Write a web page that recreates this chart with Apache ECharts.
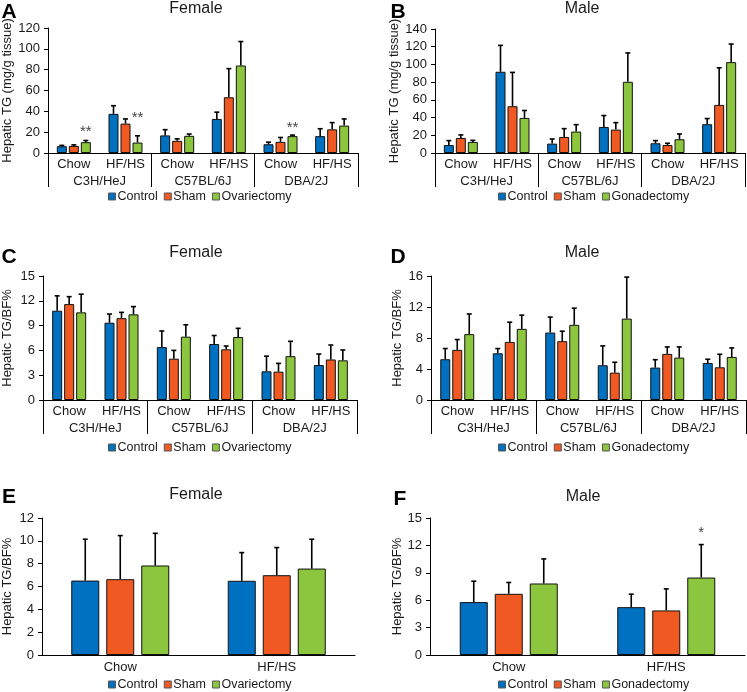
<!DOCTYPE html>
<html><head><meta charset="utf-8">
<script src="https://cdn.jsdelivr.net/npm/echarts@6/dist/echarts.min.js"></script>
<style>html,body{margin:0;padding:0;background:#fff}#c{width:747px;height:692px}</style>
</head><body><div id="c"></div>
<script>
// ---- categories / tick labels ----
const diets6 = ['Chow','HF/HS','Chow','HF/HS','Chow','HF/HS'];
const strains = ['C3H/HeJ','C57BL/6J','DBA/2J'];
const diets2 = ['Chow','HF/HS'];
const seriesFemale = ['Control','Sham','Ovariectomy'];
const seriesMale = ['Control','Sham','Gonadectomy'];

// ---- Panel A: Female hepatic TG (mg/g tissue) ----
const A_control = [6.5, 37.6, 16.9, 32.7, 8.4, 16.2];
const A_controlErr = [0.8, 7.8, 5.5, 6.5, 2.0, 7.1];
const A_sham = [6.8, 28.2, 11.7, 53.5, 10.7, 22.7];
const A_shamErr = [1.0, 4.5, 1.9, 27.5, 4.2, 6.5];
const A_ovx = [10.4, 10.0, 16.5, 84.0, 16.2, 26.3];
const A_ovxErr = [1.6, 6.5, 1.7, 23.0, 1.0, 6.4];
const A_stars = [[0, 20.5, '**'], [1, 33.6, '**'], [4, 24.5, '**']];

// ---- Panel B: Male hepatic TG (mg/g tissue) ----
const B_control = [9.0, 91.7, 10.6, 29.4, 11.0, 32.5];
const B_controlErr = [5.0, 29.8, 5.2, 12.9, 3.0, 6.4];
const B_sham = [17.0, 52.8, 18.1, 26.4, 9.0, 54.3];
const B_shamErr = [3.4, 38.2, 9.4, 7.9, 2.0, 41.9];
const B_gdx = [12.5, 39.6, 24.2, 80.4, 15.5, 102.6];
const B_gdxErr = [1.8, 8.4, 7.8, 32.6, 6.0, 20.4];

// ---- Panel C: Female hepatic TG/BF% ----
const C_control = [10.8, 9.35, 6.4, 6.77, 3.47, 4.23];
const C_controlErr = [1.8, 1.05, 1.95, 1.03, 1.83, 1.33];
const C_sham = [11.6, 9.9, 5.0, 6.13, 3.43, 4.9];
const C_shamErr = [0.9, 0.7, 1.0, 0.4, 1.0, 1.75];
const C_ovx = [10.6, 10.36, 7.66, 7.62, 5.3, 4.8];
const C_ovxErr = [2.2, 0.94, 1.44, 1.05, 1.8, 1.25];

// ---- Panel D: Male hepatic TG/BF% ----
const D_control = [5.26, 6.03, 8.7, 4.48, 4.18, 4.78];
const D_controlErr = [1.38, 0.61, 2.0, 2.5, 1.02, 0.48];
const D_sham = [6.47, 7.5, 7.59, 3.53, 5.95, 4.22];
const D_shamErr = [1.33, 2.54, 1.29, 1.34, 0.9, 1.68];
const D_gdx = [8.5, 9.18, 9.7, 10.5, 5.47, 5.56];
const D_gdxErr = [2.6, 1.77, 2.15, 5.36, 1.38, 1.16];

// ---- Panel E: Female hepatic TG/BF% by diet ----
const E_control = [6.52, 6.5];
const E_controlErr = [3.62, 2.47];
const E_sham = [6.64, 6.99];
const E_shamErr = [3.82, 2.42];
const E_ovx = [7.84, 7.57];
const E_ovxErr = [2.82, 2.57];

// ---- Panel F: Male hepatic TG/BF% by diet ----
const F_control = [5.79, 5.24];
const F_controlErr = [2.29, 1.42];
const F_sham = [6.7, 4.88];
const F_shamErr = [1.24, 2.36];
const F_gdx = [7.83, 8.48];
const F_gdxErr = [2.69, 3.61];
const F_stars = [[1, 13.4, '*']];

// ---- styles ----
const COLORS = ['#0070C0', '#F05A22', '#8CC63F'];
const FONT = 'Liberation Sans, Arial, sans-serif';
const TXT = '#1a1a1a';

const panels = [
  {grid:{left:48, top:28, width:310, height:125}, max:120, interval:20, yname:'Hepatic TG (mg/g tissue)', nameGap:33,
   names:seriesFemale, means:[A_control,A_sham,A_ovx], errs:[A_controlErr,A_shamErr,A_ovxErr], strain:true, stars:A_stars,
   title:'Female', titleX:196, titleY:9, letter:'A', lx:9, ly:12, legendLeft:108, legendY:197},
  {grid:{left:435, top:29, width:310, height:124}, max:140, interval:20, yname:'Hepatic TG (mg/g tissue)', nameGap:31,
   names:seriesMale, means:[B_control,B_sham,B_gdx], errs:[B_controlErr,B_shamErr,B_gdxErr], strain:true, stars:[],
   title:'Male', titleX:582, titleY:9, letter:'B', lx:398, ly:12, legendLeft:498, legendY:197},
  {grid:{left:42, top:276, width:315, height:124}, max:15, interval:3, yname:'Hepatic TG/BF%', nameGap:29,
   names:seriesFemale, means:[C_control,C_sham,C_ovx], errs:[C_controlErr,C_shamErr,C_ovxErr], strain:true, stars:[],
   title:'Female', titleX:196, titleY:253, letter:'C', lx:9, ly:257, legendLeft:108, legendY:448},
  {grid:{left:431, top:276, width:315, height:124}, max:16, interval:4, yname:'Hepatic TG/BF%', nameGap:27,
   names:seriesMale, means:[D_control,D_sham,D_gdx], errs:[D_controlErr,D_shamErr,D_gdxErr], strain:true, stars:[],
   title:'Male', titleX:582, titleY:253, letter:'D', lx:398, ly:257, legendLeft:498, legendY:448},
  {grid:{left:41, top:518, width:314, height:137}, max:12, interval:2, yname:'Hepatic TG/BF%', nameGap:28,
   names:seriesFemale, means:[E_control,E_sham,E_ovx], errs:[E_controlErr,E_shamErr,E_ovxErr], strain:false, stars:[],
   title:'Female', titleX:196, titleY:495, letter:'E', lx:9, ly:497, legendLeft:108, legendY:685},
  {grid:{left:430, top:518, width:315, height:137}, max:15, interval:3, yname:'Hepatic TG/BF%', nameGap:26,
   names:seriesMale, means:[F_control,F_sham,F_gdx], errs:[F_controlErr,F_shamErr,F_gdxErr], strain:false, stars:F_stars,
   title:'Male', titleX:583, titleY:497, letter:'F', lx:400, ly:499, legendLeft:498, legendY:685}
];

const grids = [], xAxes = [], yAxes = [], series = [], legends = [], graphics = [];

function errRender(offset) {
  return function (params, api) {
    const x = api.coord([api.value(0), 0])[0] + offset;
    const yb = api.coord([api.value(0), api.value(1)])[1];
    const yt = api.coord([api.value(0), api.value(2)])[1];
    return {type:'group', children:[
      {type:'line', shape:{x1:x, y1:yb, x2:x, y2:yt}, style:{stroke:'#000', lineWidth:1.6}},
      {type:'line', shape:{x1:x-2.5, y1:yt, x2:x+2.5, y2:yt}, style:{stroke:'#000', lineWidth:1.6}}
    ]};
  };
}
function starRender(offset) {
  return function (params, api) {
    const p = api.coord([api.value(0), api.value(1)]);
    return {type:'text', x:p[0] + offset, y:p[1], style:{text:api.value(2), font:'15px ' + FONT, fill:'#444', align:'center', verticalAlign:'middle'}};
  };
}

panels.forEach((p, gi) => {
  grids.push(p.grid);
  const cats = p.strain ? diets6 : diets2;
  const bw = p.strain ? 10 : 28;
  const gapFrac = p.strain ? 0.2 : 0.25;
  const step = bw * (1 + gapFrac);
  const xIdx = xAxes.length;
  xAxes.push({type:'category', gridIndex:gi, data:cats, position:'bottom',
    axisLine:{show:true, lineStyle:{color:'#000', width:1}}, axisTick:{show:false},
    axisLabel:{margin:p.strain ? 5 : 6, fontSize:13, color:TXT, fontFamily:FONT, interval:0}});
  if (p.strain) {
    xAxes.push({type:'category', gridIndex:gi, data:strains, position:'bottom', boundaryGap:true,
      axisLine:{show:false}, axisTick:{show:true, length:34, lineStyle:{color:'#000', width:1}},
      axisLabel:{margin:22, fontSize:13, color:TXT, fontFamily:FONT, interval:0}});
  }
  yAxes.push({type:'value', gridIndex:gi, min:0, max:p.max, interval:p.interval,
    name:p.yname, nameLocation:'middle', nameGap:p.nameGap, nameRotate:90,
    nameTextStyle:{fontSize:13, color:TXT, fontFamily:FONT},
    axisLine:{show:true, lineStyle:{color:'#000', width:1}},
    axisTick:{show:true, length:4, lineStyle:{color:'#000'}},
    splitLine:{show:false},
    axisLabel:{margin:8, fontSize:13, color:TXT, fontFamily:FONT}});
  const yIdx = yAxes.length - 1;
  p.names.forEach((nm, si) => {
    series.push({type:'bar', name:nm, xAxisIndex:xIdx, yAxisIndex:yIdx, data:p.means[si],
      barWidth:bw, barGap:(gapFrac*100)+'%',
      itemStyle:{color:COLORS[si], borderColor:'#111', borderWidth:1}, emphasis:{disabled:true}});
  });
  p.names.forEach((nm, si) => {
    const off = (si - 1) * step;
    series.push({type:'custom', name:'err'+gi+'_'+si, xAxisIndex:xIdx, yAxisIndex:yIdx, z:5,
      renderItem:errRender(off),
      data:p.means[si].map((m, i) => [i, m, m + p.errs[si][i]])});
  });
  if (p.stars.length) {
    series.push({type:'custom', name:'stars'+gi, xAxisIndex:xIdx, yAxisIndex:yIdx, z:6,
      renderItem:starRender(step), data:p.stars});
  }
  legends.push({data:p.names.map(n => ({name:n})), left:p.legendLeft, top:p.legendY - 7, orient:'horizontal',
    itemWidth:7, itemHeight:7, itemGap:6, padding:0, icon:'rect', selectedMode:false,
    itemStyle:{borderColor:'#555', borderWidth:1},
    textStyle:{fontSize:12.5, color:TXT, fontFamily:FONT, padding:[0,0,0,-3]}});
  graphics.push({type:'text', x:p.titleX, y:p.titleY, style:{text:p.title, font:'16px ' + FONT, fill:TXT, align:'center', verticalAlign:'middle'}});
  graphics.push({type:'text', x:p.lx, y:p.ly, style:{text:p.letter, font:'bold 21px ' + FONT, fill:'#000', align:'center', verticalAlign:'middle'}});
});

const chart = echarts.init(document.getElementById('c'), null, {renderer:'canvas'});
chart.setOption({
  animation:false,
  backgroundColor:'#fff',
  grid:grids, xAxis:xAxes, yAxis:yAxes, series:series, legend:legends, graphic:graphics
});
</script></body></html>
